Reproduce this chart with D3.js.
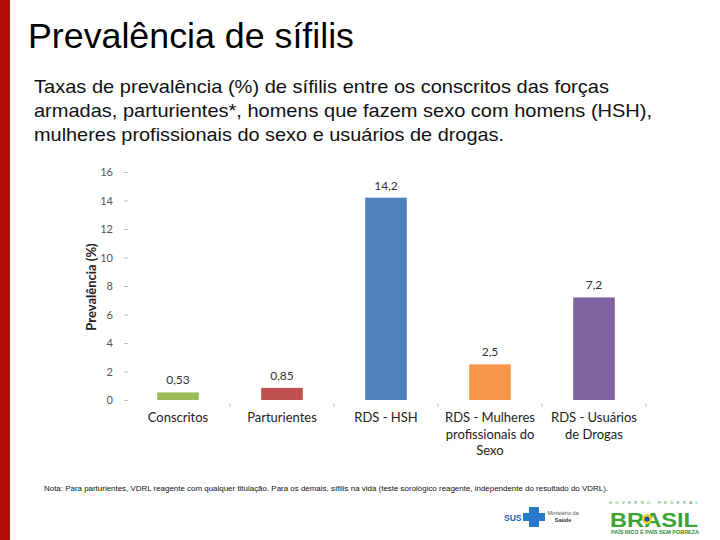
<!DOCTYPE html>
<html>
<head>
<meta charset="utf-8">
<script src="https://cdn.jsdelivr.net/npm/d3@7"></script>
<style>
  body { margin: 0; background: #fff; }
  svg { display: block; }
</style>
</head>
<body>
<svg width="720" height="540"></svg>
<script>
const categories = ['Conscritos', 'Parturientes', 'RDS - HSH', 'RDS - Mulheres profissionais do Sexo', 'RDS - Usuários de Drogas'];
const categoryLines = [['Conscritos'], ['Parturientes'], ['RDS - HSH'], ['RDS - Mulheres', 'profissionais do', 'Sexo'], ['RDS - Usuários', 'de Drogas']];
const values = [0.53, 0.85, 14.2, 2.5, 7.2];
const valueLabels = ['0,53', '0,85', '14,2', '2,5', '7,2'];
const barColors = ['#9bbb59', '#c0504d', '#4f81bd', '#f79646', '#8064a2'];
const yTicks = [0, 2, 4, 6, 8, 10, 12, 14, 16];

const svg = d3.select('svg');

// left red stripe
svg.append('rect').attr('x', 0).attr('y', 0).attr('width', 10).attr('height', 540).attr('fill', '#b30d0b');

svg.append('text')
  .attr('x', 28).attr('y', 48)
  .attr('font-family', 'Liberation Sans, Arial, sans-serif')
  .attr('font-size', 35)
  .attr('textLength', 326)
  .attr('lengthAdjust', 'spacingAndGlyphs')
  .attr('fill', '#000')
  .text('Prevalência de sífilis');

const subtitle = [
  'Taxas de prevalência (%) de sífilis entre os conscritos das forças',
  'armadas, parturientes*, homens que fazem sexo com homens (HSH),',
  'mulheres profissionais do sexo e usuários de drogas.'
];
const subLens = [575, 618, 470];
svg.append('g').selectAll('text').data(subtitle).join('text')
  .attr('x', 34)
  .attr('y', (d, i) => 93 + i * 24)
  .attr('font-family', 'Liberation Sans, Arial, sans-serif')
  .attr('font-size', 19)
  .attr('fill', '#111')
  .attr('textLength', (d, i) => subLens[i])
  .attr('lengthAdjust', 'spacingAndGlyphs')
  .text(d => d);

const x = d3.scaleBand().domain(categories).range([126, 646]).paddingInner(0.6).paddingOuter(0.3);
const y = d3.scaleLinear().domain([0, 16]).range([400, 172]);

const chartFont = 'Lato, Carlito, Calibri, sans-serif';

// y axis
const yAxis = svg.append('g')
  .attr('transform', 'translate(128,0)')
  .call(d3.axisLeft(y).tickValues(yTicks).tickSize(4).tickPadding(11).tickFormat(d3.format('d')));
yAxis.select('.domain').remove();
yAxis.selectAll('.tick line').attr('stroke', '#bfbfbf');
yAxis.selectAll('.tick text').attr('font-family', chartFont).attr('font-size', 11).attr('fill', '#555');

// category separator ticks
const band = d3.scaleBand().domain(categories).range([126, 646]);
svg.append('g').selectAll('line').data(categories).join('line')
  .attr('x1', d => band(d) + band.bandwidth())
  .attr('x2', d => band(d) + band.bandwidth())
  .attr('y1', 403).attr('y2', 407)
  .attr('stroke', '#bfbfbf');

// bars
svg.append('g').selectAll('rect').data(values).join('rect')
  .attr('x', (d, i) => x(categories[i]))
  .attr('y', d => y(d))
  .attr('width', x.bandwidth())
  .attr('height', d => y(0) - y(d))
  .attr('fill', (d, i) => barColors[i]);

// value labels
svg.append('g').selectAll('text').data(values).join('text')
  .attr('x', (d, i) => x(categories[i]) + x.bandwidth() / 2)
  .attr('y', d => y(d) - 8)
  .attr('text-anchor', 'middle')
  .attr('font-family', chartFont)
  .attr('font-size', 12)
  .attr('fill', '#333')
  .text((d, i) => valueLabels[i]);

// category labels
const catG = svg.append('g').selectAll('text').data(categories).join('text')
  .attr('x', d => band(d) + band.bandwidth() / 2)
  .attr('y', 422)
  .attr('text-anchor', 'middle')
  .attr('font-family', chartFont)
  .attr('font-size', 13)
  .attr('fill', '#222');
catG.each(function (d, i) {
  d3.select(this).selectAll('tspan').data(categoryLines[i]).join('tspan')
    .attr('x', band(d) + band.bandwidth() / 2)
    .attr('dy', (t, j) => j === 0 ? 0 : 16.5)
    .text(t => t);
});

// y axis title
svg.append('text')
  .attr('transform', 'translate(96,287) rotate(-90)')
  .attr('text-anchor', 'middle')
  .attr('font-family', chartFont)
  .attr('font-size', 13)
  .attr('font-weight', 'bold')
  .attr('fill', '#222')
  .text('Prevalência (%)');

// footnote
svg.append('text')
  .attr('x', 44).attr('y', 491)
  .attr('font-family', 'Liberation Sans, Arial, sans-serif')
  .attr('font-size', 7.5)
  .attr('fill', '#111')
  .attr('textLength', 564)
  .attr('lengthAdjust', 'spacingAndGlyphs')
  .text('Nota: Para parturientes, VDRL reagente com qualquer titulação. Para os demais, sífilis na vida (teste sorológico reagente, independente do resultado do VDRL).');

// logos
const logo = svg.append('g');
logo.append('text').attr('x', 504).attr('y', 521)
  .attr('font-family', 'Liberation Sans, Arial, sans-serif').attr('font-size', 8.5).attr('font-weight', 'bold')
  .attr('fill', '#1d5fb0').text('SUS');
logo.append('rect').attr('x', 529).attr('y', 507).attr('width', 10).attr('height', 20).attr('fill', '#2a78c8');
logo.append('rect').attr('x', 523).attr('y', 513).attr('width', 22).attr('height', 8).attr('fill', '#2a78c8');
logo.append('text').attr('x', 563).attr('y', 515).attr('text-anchor', 'middle')
  .attr('font-family', 'Liberation Sans, Arial, sans-serif').attr('font-size', 5.5).attr('fill', '#555').text('Ministério da');
logo.append('text').attr('x', 563).attr('y', 522).attr('text-anchor', 'middle')
  .attr('font-family', 'Liberation Sans, Arial, sans-serif').attr('font-size', 5.5).attr('font-weight', 'bold').attr('fill', '#333').text('Saúde');
logo.append('text').attr('x', 655).attr('y', 504).attr('text-anchor', 'middle')
  .attr('font-family', 'Liberation Sans, Arial, sans-serif').attr('font-size', 4).attr('letter-spacing', 3.5).attr('fill', '#2d8a3a').text('GOVERNO FEDERAL');
logo.append('text').attr('x', 654).attr('y', 527).attr('text-anchor', 'middle')
  .attr('font-family', 'Liberation Sans, Arial, sans-serif').attr('font-size', 21).attr('font-weight', 'bold')
  .attr('textLength', 88).attr('lengthAdjust', 'spacingAndGlyphs')
  .attr('fill', '#3aa535').text('BRASIL');
logo.append('circle').attr('cx', 647).attr('cy', 519).attr('r', 5).attr('fill', '#f4d21f');
logo.append('circle').attr('cx', 647).attr('cy', 519).attr('r', 2.6).attr('fill', '#1f4fa0');
logo.append('text').attr('x', 655).attr('y', 534).attr('text-anchor', 'middle')
  .attr('font-family', 'Liberation Sans, Arial, sans-serif').attr('font-size', 4.5).attr('font-weight', 'bold')
  .attr('textLength', 88).attr('lengthAdjust', 'spacingAndGlyphs')
  .attr('fill', '#2d8a3a').text('PAÍS RICO É PAÍS SEM POBREZA');
</script>
</body>
</html>
